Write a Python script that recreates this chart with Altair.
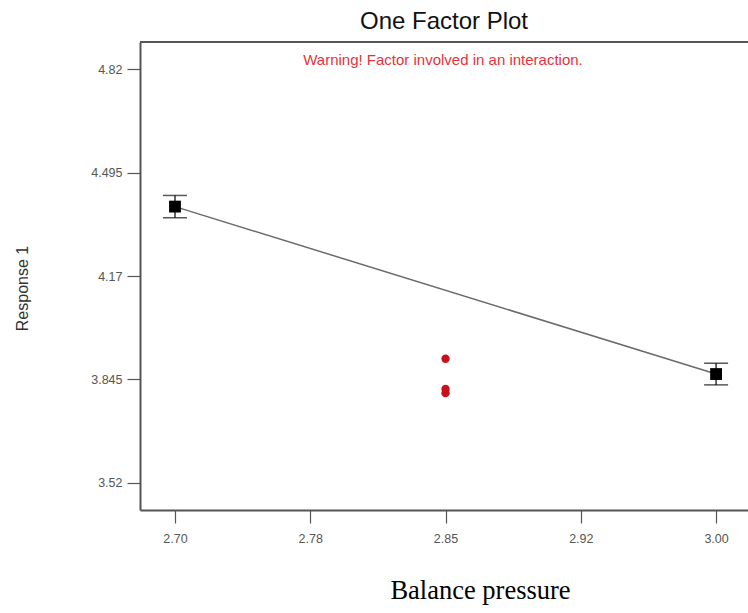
import altair as alt
import pandas as pd

# ---- data ----
pressure_levels = [2.70, 3.00]
predicted = [4.388, 3.862]
ci_half = [0.035, 0.034]

design_x = [2.85, 2.85, 2.85]
design_y = [3.910, 3.815, 3.802]

x_tick_values = [2.70, 2.775, 2.85, 2.925, 3.00]
x_tick_labels = ["2.70", "2.78", "2.85", "2.92", "3.00"]
y_tick_values = [3.52, 3.845, 4.17, 4.495, 4.82]
y_tick_labels = ["3.52", "3.845", "4.17", "4.495", "4.82"]

pred_df = pd.DataFrame({
    "p": pressure_levels,
    "r": predicted,
    "lo": [m - h for m, h in zip(predicted, ci_half)],
    "hi": [m + h for m, h in zip(predicted, ci_half)],
})
design_df = pd.DataFrame({"p": design_x, "r": design_y})


def label_expr(values, labels):
    parts = []
    for v, l in zip(values, labels):
        parts.append(f"abs(datum.value - {v}) < 0.001 ? '{l}'")
    return " : ".join(parts) + " : ''"


W, H = 608, 468
FRAME = "#555555"

xscale = alt.Scale(domain=[2.6806, 3.0177], nice=False, zero=False)
yscale = alt.Scale(domain=[3.435, 4.905], nice=False, zero=False)

axis_common = dict(
    grid=False, domain=True, domainColor=FRAME, domainWidth=2,
    tickColor="#555555", tickWidth=1.2,
    labelFont="Liberation Sans", labelFontSize=12.5, labelColor="#555555",
)

xaxis = alt.Axis(
    values=x_tick_values,
    labelExpr=label_expr(x_tick_values, x_tick_labels),
    tickSize=13, labelPadding=9,
    title="Balance pressure", titleFont="Liberation Serif", titleFontSize=26.5,
    titleFontWeight="normal", titleColor="#000000",
    titleX=340, titleY=80, titleBaseline="middle",
    **axis_common,
)
yaxis = alt.Axis(
    values=y_tick_values,
    labelExpr=label_expr(y_tick_values, y_tick_labels),
    tickSize=13, labelPadding=5,
    title="Response 1", titleFont="Liberation Sans", titleFontSize=16,
    titleFontWeight="normal", titleColor="#333333",
    titleX=-118, titleY=246, titleBaseline="middle", titleAngle=270,
    **axis_common,
)

base = alt.Chart(pred_df)

line = base.mark_line(color="#6a6a6a", strokeWidth=1.5).encode(
    x=alt.X("p:Q", scale=xscale, axis=xaxis),
    y=alt.Y("r:Q", scale=yscale, axis=yaxis),
)
stem = base.mark_rule(color="#111111", strokeWidth=1.3).encode(
    x="p:Q", y="lo:Q", y2="hi:Q"
)
cap_lo = base.mark_tick(color="#111111", thickness=1.5, size=24, orient="horizontal").encode(
    x="p:Q", y="lo:Q"
)
cap_hi = base.mark_tick(color="#111111", thickness=1.5, size=24, orient="horizontal").encode(
    x="p:Q", y="hi:Q"
)
squares = base.mark_point(shape="square", filled=True, color="#000000", size=140, opacity=1).encode(
    x="p:Q", y="r:Q"
)
design = alt.Chart(design_df).mark_point(filled=True, color="#c8101a", size=70, opacity=1).encode(
    x="p:Q", y="r:Q"
)
top_frame = alt.Chart(pd.DataFrame({"k": [0]})).mark_rule(color=FRAME, strokeWidth=2).encode(
    x=alt.value(0), x2=alt.value(W), y=alt.value(0)
)
warning = alt.Chart(pd.DataFrame({"t": ["Warning! Factor involved in an interaction."]})).mark_text(
    color="#e8323c", font="Liberation Sans", fontSize=15, align="center", baseline="middle"
).encode(text="t:N", x=alt.value(303), y=alt.value(18))

chart = alt.layer(top_frame, line, stem, cap_lo, cap_hi, squares, design, warning).properties(
    width=W, height=H,
    title=alt.TitleParams("One Factor Plot", font="Liberation Sans", fontSize=24,
                          fontWeight="normal", color="#111111", anchor="middle", offset=7),
    autosize=alt.AutoSizeParams(type="none"),
    padding={"left": 140, "top": 42, "right": 0, "bottom": 103},
).configure(background="white").configure_view(strokeWidth=0)

chart.save("out.html", embed_options={"renderer": "svg", "actions": False})
